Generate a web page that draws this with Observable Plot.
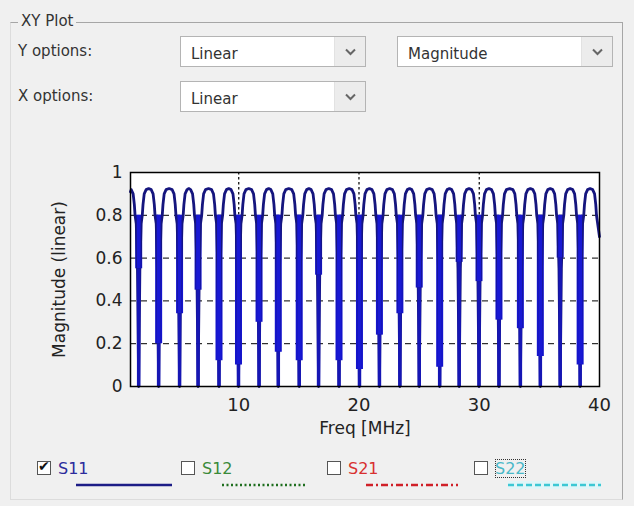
<!DOCTYPE html>
<html>
<head>
<meta charset="utf-8">
<script src="https://cdn.jsdelivr.net/npm/d3@7"></script>
<script src="https://cdn.jsdelivr.net/npm/@observablehq/plot@0.6"></script>
<style>
  html, body { margin: 0; padding: 0; background: #f0f0f0; }
  body { width: 634px; height: 506px; position: relative; overflow: hidden;
         font-family: "DejaVu Sans", "Liberation Sans", Arial, sans-serif; color: #222; }
  .abs { position: absolute; }
  .group { left: 10px; top: 22px; width: 611px; height: 476px;
           border-top: 1px solid #a6a6a6; border-right: 1px solid #a6a6a6;
           border-bottom: 1px solid #dcdcdc; border-left: 1px solid #dcdcdc; }
  .gtitle { left: 18px; top: 12px; padding: 0 3px; background: #f0f0f0; font-size: 15px; color: #333; }
  .lbl { font-size: 15px; color: #333; }
  .dd { background: #fff; border: 1px solid #b4b4b4; height: 31px; box-sizing: border-box; }
  .dd .txt { position: absolute; left: 10px; top: 8px; font-size: 15px; color: #333; }
  .dd .btn { position: absolute; right: 0; top: 0; width: 30px; height: 29px; background: #ececec;
             border-left: 1px solid #e2e2e2; }
  .dd .btn svg { position: absolute; left: 10px; top: 11px; }
  .cb { width: 14px; height: 14px; border: 1px solid #555; background: #fff; box-sizing: border-box; }
  .cb span { position: absolute; left: 0px; top: -4px; font-family: "DejaVu Sans"; font-size: 14px; color: #111; }
  .ltxt { font-size: 16px; font-family: "DejaVu Sans", sans-serif; }
  #chart { position: absolute; left: 0; top: 0; }
</style>
</head>
<body>
<div id="gui"></div>
<div id="chart"></div>
<script>
// ---- data ----
const xTicks = [10, 20, 30, 40];
const yTicks = [0, 0.2, 0.4, 0.6, 0.8, 1];
const xDomain = [1, 40];

// frequencies (MHz) of the nulls of |S11|
const nullFreq = [1.68, 3.34, 5.08, 6.62, 8.36, 9.98, 11.69, 13.29, 15.03, 16.64, 18.34, 20.04,
                  21.70, 23.40, 25.01, 26.71, 28.33, 29.98, 31.64, 33.42, 35.08, 36.73, 38.39];
// level where the thick part of each dip ends
const bladeLow = [0.55, 0.20, 0.34, 0.45, 0.12, 0.10, 0.30, 0.16, 0.12, 0.52, 0.12, 0.08,
                  0.24, 0.34, 0.46, 0.09, 0.58, 0.49, 0.31, 0.27, 0.14, 0.60, 0.10];
const bladeTop = 0.80;
const humpPeak = 0.925;
// shape of each side of a dip: offset from the null (MHz) and magnitude
const edgeOffset = [0.10, 0.20, 0.30, 0.36, 0.46, 0.62];
const edgeMag = [0.55, 0.76, 0.80, 0.85, 0.90, 0.92];
const startPoint = {f: 1.0, m: 0.91};
const endPoint = {f: 40.0, m: 0.70};

// GUI texts
const yOptions = ["Linear", "Magnitude"];
const xOptions = ["Linear"];
const seriesNames = ["S11", "S12", "S21", "S22"];
const seriesColors = ["#2b2b9c", "#3a8a3a", "#d83030", "#4ab8c8"];
const lineColors = ["#1c1c86", "#1e6e1e", "#d02028", "#3cc8d4"];
const lineDash = ["", "2,2.5", "7,3,2,3", "6,3"];
const checked = [true, false, false, false];

// ---- build the curve from the read values ----
const pts = [startPoint];
for (let i = 0; i < nullFreq.length; i++) {
  const n = nullFreq[i];
  if (i > 0) pts.push({f: (nullFreq[i - 1] + n) / 2, m: humpPeak});
  for (let k = edgeOffset.length - 1; k >= 0; k--) {
    if (n - edgeOffset[k] > startPoint.f) pts.push({f: n - edgeOffset[k], m: edgeMag[k]});
  }
  pts.push({f: n, m: 0});
  for (let k = 0; k < edgeOffset.length; k++) pts.push({f: n + edgeOffset[k], m: edgeMag[k]});
}
const lastN = nullFreq[nullFreq.length - 1];
const period = lastN - nullFreq[nullFreq.length - 2];
pts.push({f: lastN + period / 2, m: humpPeak});
const nextN = lastN + period;
for (let k = edgeOffset.length - 1; k >= 2; k--) {
  if (nextN - edgeOffset[k] < endPoint.f) pts.push({f: nextN - edgeOffset[k], m: edgeMag[k]});
}
pts.push(endPoint);

const blades = nullFreq.map((f, i) => ({f, low: bladeLow[i], top: bladeTop}));

// ---- plot ----
const chart = Plot.plot({
  width: 634, height: 506,
  marginLeft: 130, marginRight: 35, marginTop: 172, marginBottom: 120,
  style: {background: "transparent", fontFamily: "DejaVu Sans, sans-serif"},
  x: {domain: xDomain},
  y: {domain: [0, 1]},
  marks: [
    Plot.frame({fill: "white", stroke: null}),
    Plot.gridY(yTicks.filter(d => d > 0 && d < 1), {stroke: "#000", strokeOpacity: 1, strokeDasharray: "6,5", strokeWidth: 1}),
    Plot.gridX(xTicks.filter(d => d < 40), {stroke: "#000", strokeOpacity: 1, strokeDasharray: "2.5,2.5", strokeWidth: 1.2}),
    Plot.ruleX(blades, {x: "f", y1: "low", y2: "top", stroke: "#1414cc", strokeWidth: 7}),
    Plot.line(pts, {x: "f", y: "m", stroke: "#15157e", strokeWidth: 2.8, curve: "linear"}),
    Plot.ruleX(blades, {x: "f", y1: "low", y2: "top", stroke: "#1818d4", strokeWidth: 4}),
    Plot.ruleX(blades, {x: "f", y1: 0, y2: "low", stroke: "#1616b4", strokeWidth: 3.5}),
    Plot.frame({stroke: "#000", strokeWidth: 1.5}),
    Plot.axisX({ticks: xTicks, tickSize: 0, tickPadding: 12, fontSize: 18, label: "Freq [MHz]",
                labelAnchor: "center", labelArrow: "none", labelOffset: 47}),
    Plot.axisY({ticks: yTicks, tickSize: 0, tickPadding: 8, fontSize: 17, tickFormat: d => String(d),
                label: "Magnitude (linear)", labelAnchor: "center", labelArrow: "none", labelOffset: 78})
  ]
});
chart.querySelectorAll("text").forEach(t => t.setAttribute("fill", "#222"));
chart.querySelectorAll("[aria-label='x-axis label'] text, [aria-label='y-axis label'] text")
  .forEach(t => t.setAttribute("font-size", 17));
document.getElementById("chart").appendChild(chart);

// ---- GUI around the plot ----
const gui = d3.select("#gui");
gui.append("div").attr("class", "abs group");
gui.append("div").attr("class", "abs gtitle").text("XY Plot");
gui.append("div").attr("class", "abs lbl").style("left", "18px").style("top", "42px").text("Y options:");
gui.append("div").attr("class", "abs lbl").style("left", "18px").style("top", "87px").text("X options:");

const chevron = '<svg width="11" height="8"><path d="M1,1.5 L5.5,6 L10,1.5" fill="none" stroke="#666" stroke-width="2"/></svg>';
function dropdown(x, y, w, label) {
  const d = gui.append("div").attr("class", "abs dd")
    .style("left", x + "px").style("top", y + "px").style("width", w + "px");
  d.append("div").attr("class", "txt").text(label);
  d.append("div").attr("class", "btn").html(chevron);
}
dropdown(180, 36, 186, yOptions[0]);
dropdown(397, 36, 216, yOptions[1]);
dropdown(180, 81, 186, xOptions[0]);

// legend checkboxes
const legendX = [37, 181, 327, 474];
const lineX = [[76, 172], [222, 306], [366, 458], [508, 601]];
seriesNames.forEach((name, i) => {
  const cb = gui.append("div").attr("class", "abs cb")
    .style("left", legendX[i] + "px").style("top", "461px");
  if (checked[i]) cb.append("span").text("\u2714");
  const t = gui.append("div").attr("class", "abs ltxt")
    .style("left", (legendX[i] + 21) + "px").style("top", "459px")
    .style("color", seriesColors[i]).text(name);
  if (i === 3) t.style("outline", "1px dotted #333").style("outline-offset", "-1px");
  const [x1, x2] = lineX[i];
  const svg = gui.append("svg").attr("class", "abs")
    .style("left", x1 + "px").style("top", "480px")
    .attr("width", x2 - x1).attr("height", 10);
  if (i === 3) svg.append("rect").attr("width", x2 - x1).attr("height", 8).attr("y", 1).attr("fill", "#e0f6f8");
  svg.append("line").attr("x1", 0).attr("x2", x2 - x1).attr("y1", 5).attr("y2", 5)
    .attr("stroke", lineColors[i]).attr("stroke-width", 2.5)
    .attr("stroke-dasharray", lineDash[i] || null);
});
</script>
</body>
</html>
